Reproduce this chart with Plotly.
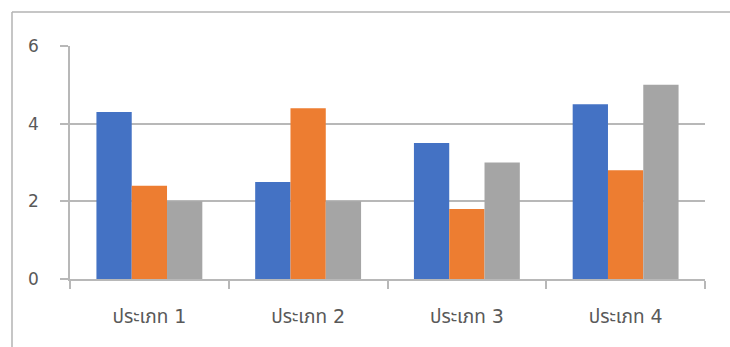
import plotly.graph_objects as go

# Categories and series values
categories = ["ประเภท 1", "ประเภท 2", "ประเภท 3", "ประเภท 4"]
series_1 = [4.3, 2.5, 3.5, 4.5]
series_2 = [2.4, 4.4, 1.8, 2.8]
series_3 = [2, 2, 3, 5]
y_ticks = [0, 2, 4, 6]

colors = ["#4472C4", "#ED7D31", "#A5A5A5"]
names = ["ชุดข้อมูล 1", "ชุดข้อมูล 2", "ชุดข้อมูล 3"]
text_color = "#595959"
grid_color = "#b8b8b8"
font_family = "'DejaVu Sans', 'Noto Sans Thai', sans-serif"

fig = go.Figure()
for name, vals, col in zip(names, [series_1, series_2, series_3], colors):
    fig.add_trace(go.Bar(x=categories, y=vals, name=name, marker=dict(color=col, line=dict(width=0))))

W, H = 730, 347
ml, mr, mt, mb = 70, 25, 46, 68
pw, ph = W - ml - mr, H - mt - mb

def px_x(p):
    return (p - ml) / pw

def px_y(p):
    return (H - mb - p) / ph

fig.update_layout(
    width=W, height=H,
    margin=dict(l=ml, r=mr, t=mt, b=mb),
    paper_bgcolor="white", plot_bgcolor="white",
    barmode="group", bargap=0.333, bargroupgap=0,
    showlegend=False,
    font=dict(family=font_family, size=17, color=text_color),
    xaxis=dict(
        showline=True, linecolor=grid_color, linewidth=1.5,
        ticks="outside", tickson="boundaries", ticklen=8, tickcolor=grid_color, tickwidth=1.5,
        ticklabelstandoff=19,
        showgrid=False, tickfont=dict(size=19, color=text_color),
    ),
    yaxis=dict(
        range=[0, 6], tickvals=y_ticks,
        showline=True, linecolor=grid_color, linewidth=1.5,
        ticks="outside", ticklen=8, tickcolor=grid_color, tickwidth=1.5,
        ticklabelstandoff=18,
        showgrid=True, gridcolor=grid_color, gridwidth=1.5,
        zeroline=False, tickfont=dict(size=17, color=text_color),
    ),
    shapes=[
        # chart frame: left and top edges
        dict(type="line", xref="paper", yref="paper",
             x0=px_x(12), x1=px_x(12), y0=px_y(12), y1=px_y(H + 2),
             line=dict(color="#b3b3b3", width=1.5)),
        dict(type="line", xref="paper", yref="paper",
             x0=px_x(12), x1=px_x(W + 2), y0=px_y(12), y1=px_y(12),
             line=dict(color="#b3b3b3", width=1.5)),
    ],
)

fig.write_html("out.html")
